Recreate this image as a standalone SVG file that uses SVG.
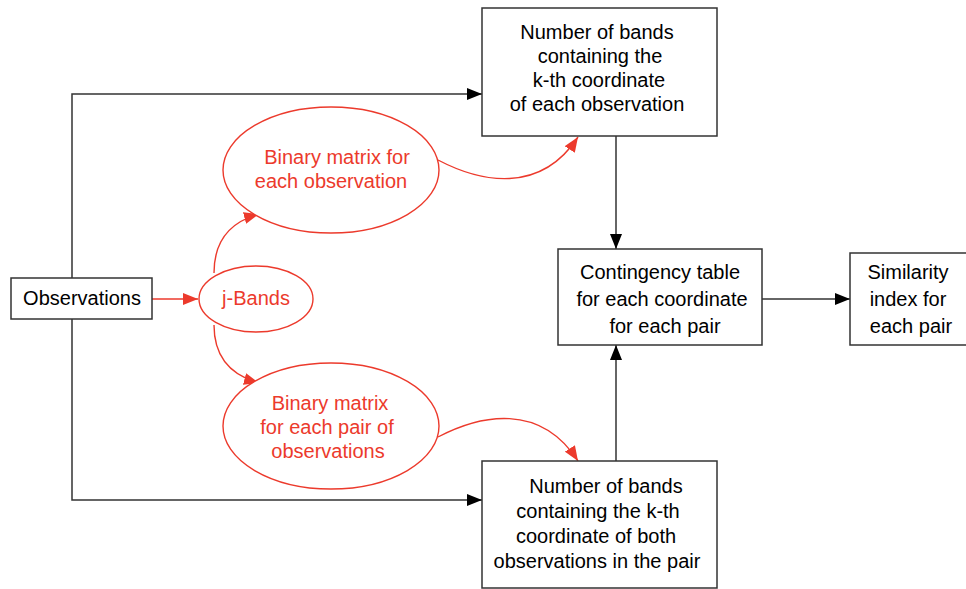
<svg xmlns="http://www.w3.org/2000/svg" width="966" height="589" viewBox="0 0 966 589">
<defs>
<style>
.box{fill:#fff;stroke:#333;stroke-width:1.5}
.ell{fill:#fff;stroke:#ec3a2c;stroke-width:1.4}
.t{font-family:"Liberation Sans",Arial,sans-serif;font-size:20px;fill:#000;text-anchor:middle}
.r{fill:#ec3a2c}
.bl{fill:none;stroke:#333;stroke-width:1.5}
.rl{fill:none;stroke:#ec3a2c;stroke-width:1.4}
</style>
<marker id="ab" markerUnits="userSpaceOnUse" markerWidth="15" markerHeight="12" refX="15" refY="6" orient="auto"><path d="M0,0 L15,6 L0,12 z" fill="#000"/></marker>
<marker id="ar" markerUnits="userSpaceOnUse" markerWidth="15" markerHeight="12" refX="15" refY="6" orient="auto"><path d="M0,0 L15,6 L0,12 z" fill="#ec3a2c"/></marker>
</defs>
<rect width="966" height="589" fill="#fff"/>
<g id="connectors">
<path class="bl" d="M72,278 V94 H482" marker-end="url(#ab)"/>
<path class="bl" d="M72,319 V500 H482" marker-end="url(#ab)"/>
<path class="bl" d="M616,136 V249" marker-end="url(#ab)"/>
<path class="bl" d="M616,461 V345" marker-end="url(#ab)"/>
<path class="bl" d="M762,299 H850" marker-end="url(#ab)"/>
<path class="rl" d="M152,299 H198" marker-end="url(#ar)"/>
<path class="rl" d="M214,273 C214,240 230,222 259,214" marker-end="url(#ar)"/>
<path class="rl" d="M214,325 C214,357 230,375 259,383" marker-end="url(#ar)"/>
<path class="rl" d="M438,160 C480,182 540,195 578,137" marker-end="url(#ar)"/>
<path class="rl" d="M438,437 C480,415 540,402 578,461" marker-end="url(#ar)"/>
</g>
<g id="observations">
<rect class="box" x="11" y="278" width="141" height="41"/>
<text class="t" x="82" y="305">Observations</text>
</g>
<g id="jbands">
<ellipse class="ell" cx="256" cy="299" rx="57" ry="33"/>
<text class="t r" x="256" y="305">j-Bands</text>
</g>
<g id="binary-obs">
<ellipse class="ell" cx="331" cy="170" rx="108" ry="63"/>
<text class="t r" x="337" y="164">Binary matrix for</text>
<text class="t r" x="331" y="188">each observation</text>
</g>
<g id="binary-pair">
<ellipse class="ell" cx="331" cy="426" rx="108" ry="63"/>
<text class="t r" x="330" y="410">Binary matrix</text>
<text class="t r" x="327" y="434">for each pair of</text>
<text class="t r" x="328" y="458">observations</text>
</g>
<g id="bands-each">
<rect class="box" x="482" y="8" width="235" height="128"/>
<text class="t" x="597" y="39">Number of bands</text>
<text class="t" x="600" y="63">containing the</text>
<text class="t" x="599" y="87">k-th coordinate</text>
<text class="t" x="597" y="111">of each observation</text>
</g>
<g id="bands-pair">
<rect class="box" x="482" y="461" width="235" height="127"/>
<text class="t" x="606" y="493">Number of bands</text>
<text class="t" x="598" y="518">containing the k-th</text>
<text class="t" x="596" y="543">coordinate of both</text>
<text class="t" x="597" y="568">observations in the pair</text>
</g>
<g id="contingency">
<rect class="box" x="558" y="249" width="204" height="96"/>
<text class="t" x="660" y="279">Contingency table</text>
<text class="t" x="662" y="306">for each coordinate</text>
<text class="t" x="665" y="333">for each pair</text>
</g>
<g id="similarity">
<rect class="box" x="850" y="253" width="130" height="92"/>
<text class="t" x="908" y="279">Similarity</text>
<text class="t" x="908" y="306">index for</text>
<text class="t" x="911" y="333">each pair</text>
</g>
</svg>
